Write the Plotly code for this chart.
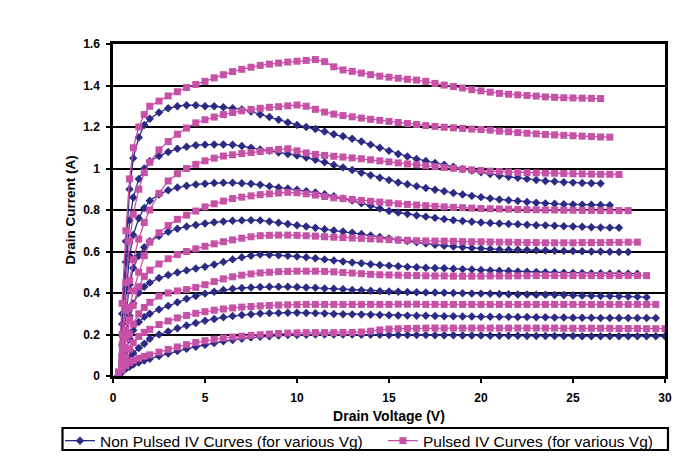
import plotly.graph_objects as go

# Drain voltage grid (V)
VD = [0.3, 0.5, 0.7, 0.9, 1.1, 1.4, 1.7, 2.0, 2.5, 3.0, 3.5, 4.0, 4.5, 5.0, 5.5, 6.0,
      6.5, 7.0, 7.5, 8.0, 8.5, 9.0, 9.5, 10.0, 10.5, 11.0, 11.5, 12.0, 12.5, 13.0, 13.5, 14.0,
      14.5, 15.0, 15.5, 16.0, 16.5, 17.0, 17.5, 18.0, 18.5, 19.0, 19.5, 20.0, 20.5, 21.0, 21.5, 22.0,
      22.5, 23.0, 23.5, 24.0, 24.5, 25.0, 25.5, 26.0, 26.5, 27.0, 27.5, 28.0, 28.5, 29.0, 29.5, 30.0]

# Non pulsed IV curves (A), one list per Vg
NP1 = [0.0, 0.3, 0.65, 0.9, 1.05, 1.15, 1.21, 1.24,
       1.27, 1.29, 1.30, 1.305, 1.305, 1.30, 1.30, 1.295,
       1.29, 1.285, 1.275, 1.26, 1.248, 1.235, 1.222, 1.21,
       1.20, 1.19, 1.178, 1.165, 1.155, 1.143, 1.13, 1.115,
       1.10, 1.085, 1.07, 1.058, 1.046, 1.036, 1.027, 1.018,
       1.008, 0.998, 0.99, 0.982, 0.973, 0.965, 0.96, 0.955,
       0.95, 0.945, 0.94, 0.937, 0.934, 0.932, 0.93, 0.929,
       0.928]
NP2 = [0.0, 0.25, 0.55, 0.75, 0.86, 0.95, 1.0, 1.035,
       1.06, 1.08, 1.095, 1.105, 1.112, 1.115, 1.116, 1.116,
       1.114, 1.108, 1.1, 1.092, 1.085, 1.077, 1.07, 1.063,
       1.053, 1.042, 1.03, 1.017, 1.005, 0.993, 0.98, 0.967,
       0.955, 0.944, 0.933, 0.924, 0.915, 0.906, 0.898, 0.89,
       0.882, 0.875, 0.868, 0.862, 0.856, 0.851, 0.847, 0.843,
       0.839, 0.835, 0.832, 0.83, 0.828, 0.827, 0.826, 0.825,
       0.824, 0.823]
NP3 = [0.0, 0.2, 0.42, 0.58, 0.68, 0.76, 0.81, 0.845,
       0.875, 0.895, 0.908, 0.917, 0.923, 0.927, 0.93, 0.931,
       0.931, 0.929, 0.926, 0.922, 0.915, 0.909, 0.904, 0.898,
       0.891, 0.884, 0.876, 0.866, 0.856, 0.846, 0.833, 0.82,
       0.807, 0.795, 0.788, 0.781, 0.774, 0.768, 0.762, 0.756,
       0.751, 0.747, 0.743, 0.74, 0.737, 0.735, 0.733, 0.731,
       0.729, 0.727, 0.726, 0.724, 0.722, 0.72, 0.719, 0.717,
       0.716, 0.715, 0.714]
NP4 = [0.0, 0.15, 0.32, 0.44, 0.52, 0.58, 0.62, 0.65,
       0.675, 0.695, 0.71, 0.72, 0.728, 0.735, 0.741, 0.745,
       0.748, 0.75, 0.751, 0.75, 0.745, 0.739, 0.733, 0.727,
       0.72, 0.714, 0.707, 0.701, 0.696, 0.691, 0.684, 0.677,
       0.67, 0.663, 0.656, 0.65, 0.644, 0.638, 0.633, 0.628,
       0.624, 0.62, 0.617, 0.614, 0.612, 0.61, 0.609, 0.608,
       0.607, 0.606, 0.605, 0.604, 0.603, 0.602, 0.601, 0.6,
       0.6, 0.599, 0.598, 0.598]
NP5 = [0.0, 0.1, 0.2, 0.29, 0.35, 0.4, 0.43, 0.45,
       0.472, 0.487, 0.499, 0.509, 0.518, 0.527, 0.537, 0.55,
       0.562, 0.572, 0.58, 0.585, 0.584, 0.582, 0.579, 0.576,
       0.572, 0.567, 0.562, 0.557, 0.552, 0.547, 0.543, 0.539,
       0.535, 0.532, 0.529, 0.526, 0.524, 0.522, 0.52, 0.519,
       0.517, 0.515, 0.513, 0.511, 0.509, 0.507, 0.506, 0.504,
       0.503, 0.501, 0.5, 0.499, 0.498, 0.497, 0.496, 0.495,
       0.495, 0.494, 0.494, 0.493, 0.493]
NP6 = [0.0, 0.06, 0.12, 0.18, 0.22, 0.26, 0.285, 0.3,
       0.32, 0.338, 0.355, 0.372, 0.386, 0.397, 0.406, 0.414,
       0.42, 0.424, 0.427, 0.429, 0.43, 0.43, 0.43, 0.429,
       0.427, 0.425, 0.422, 0.42, 0.418, 0.415, 0.413, 0.411,
       0.409, 0.407, 0.406, 0.405, 0.404, 0.403, 0.402, 0.401,
       0.4, 0.399, 0.398, 0.397, 0.396, 0.395, 0.394, 0.393,
       0.393, 0.392, 0.392, 0.391, 0.39, 0.389, 0.388, 0.387,
       0.386, 0.385, 0.384, 0.383, 0.382, 0.38]
NP7 = [0.0, 0.03, 0.06, 0.09, 0.11, 0.135, 0.155, 0.18,
       0.2, 0.215, 0.23, 0.243, 0.255, 0.266, 0.275, 0.283,
       0.289, 0.294, 0.298, 0.301, 0.303, 0.304, 0.305, 0.305,
       0.304, 0.303, 0.301, 0.299, 0.298, 0.297, 0.296, 0.295,
       0.294, 0.293, 0.292, 0.291, 0.29, 0.29, 0.289, 0.288,
       0.288, 0.287, 0.287, 0.286, 0.286, 0.285, 0.285, 0.284,
       0.284, 0.283, 0.283, 0.282, 0.282, 0.281, 0.281, 0.281,
       0.28, 0.28, 0.28, 0.28, 0.28, 0.28, 0.28]
NP8 = [0.0, 0.02, 0.035, 0.045, 0.055, 0.065, 0.075, 0.083,
       0.096, 0.108, 0.12, 0.131, 0.141, 0.15, 0.159, 0.167,
       0.174, 0.18, 0.185, 0.189, 0.192, 0.195, 0.197, 0.198,
       0.199, 0.2, 0.2, 0.2, 0.2, 0.2, 0.199, 0.199,
       0.199, 0.198, 0.198, 0.197, 0.197, 0.197, 0.196, 0.196,
       0.196, 0.195, 0.195, 0.195, 0.194, 0.194, 0.194, 0.194,
       0.193, 0.193, 0.193, 0.193, 0.193, 0.193, 0.192, 0.192,
       0.192, 0.192, 0.192, 0.192, 0.192, 0.192, 0.192, 0.192]

# Pulsed IV curves (A), one list per Vg
P1 = [0.02, 0.35, 0.7, 0.95, 1.1, 1.2, 1.26, 1.3,
      1.325, 1.35, 1.37, 1.39, 1.405, 1.42, 1.437, 1.452,
      1.467, 1.478, 1.488, 1.497, 1.503, 1.508, 1.513, 1.517,
      1.521, 1.525, 1.515, 1.49, 1.475, 1.468, 1.46, 1.452,
      1.445, 1.44, 1.435, 1.43, 1.426, 1.42, 1.41, 1.402,
      1.395, 1.388, 1.38, 1.374, 1.368, 1.362, 1.358, 1.355,
      1.352, 1.349, 1.345, 1.343, 1.341, 1.34, 1.339, 1.338,
      1.337]
P2 = [0.01, 0.2, 0.45, 0.65, 0.78, 0.9, 0.98, 1.03,
      1.09, 1.13, 1.165, 1.195, 1.22, 1.235, 1.248, 1.26,
      1.27, 1.278, 1.285, 1.29, 1.295, 1.298, 1.302, 1.306,
      1.30, 1.285, 1.272, 1.262, 1.255, 1.249, 1.243, 1.237,
      1.232, 1.227, 1.222, 1.217, 1.212, 1.207, 1.203, 1.199,
      1.196, 1.193, 1.19, 1.188, 1.185, 1.18, 1.177, 1.173,
      1.17, 1.167, 1.164, 1.162, 1.16, 1.158, 1.156, 1.154,
      1.152, 1.151]
P3 = [0.01, 0.15, 0.32, 0.46, 0.56, 0.66, 0.74, 0.8,
      0.88, 0.94, 0.975, 1.0, 1.02, 1.037, 1.05, 1.06,
      1.066, 1.072, 1.077, 1.082, 1.087, 1.092, 1.095, 1.085,
      1.075, 1.068, 1.063, 1.059, 1.055, 1.051, 1.047, 1.042,
      1.037, 1.032, 1.027, 1.022, 1.018, 1.013, 1.009, 1.005,
      1.001, 0.997, 0.993, 0.99, 0.987, 0.985, 0.983, 0.981,
      0.98, 0.979, 0.978, 0.977, 0.976, 0.975, 0.974, 0.973,
      0.972, 0.972, 0.971]
P4 = [0.01, 0.1, 0.22, 0.33, 0.41, 0.5, 0.58, 0.645,
      0.69, 0.725, 0.755, 0.775, 0.795, 0.815, 0.83, 0.843,
      0.855, 0.862, 0.868, 0.874, 0.878, 0.882, 0.885, 0.883,
      0.878, 0.872, 0.865, 0.859, 0.855, 0.851, 0.846, 0.842,
      0.838, 0.834, 0.83, 0.827, 0.824, 0.821, 0.818, 0.815,
      0.813, 0.811, 0.809, 0.807, 0.806, 0.805, 0.804, 0.803,
      0.802, 0.801, 0.8, 0.8, 0.799, 0.799, 0.798, 0.798,
      0.797, 0.797, 0.797, 0.797]
P5 = [0.01, 0.08, 0.18, 0.27, 0.34, 0.43, 0.48, 0.51,
      0.54, 0.565, 0.585, 0.6, 0.613, 0.625, 0.637, 0.647,
      0.656, 0.664, 0.671, 0.676, 0.678, 0.679, 0.679, 0.678,
      0.676, 0.674, 0.671, 0.669, 0.667, 0.665, 0.663, 0.661,
      0.659, 0.657, 0.655, 0.654, 0.652, 0.651, 0.65, 0.65,
      0.649, 0.648, 0.647, 0.647, 0.646, 0.645, 0.645, 0.644,
      0.643, 0.643, 0.642, 0.642, 0.642, 0.642, 0.643, 0.643,
      0.643, 0.644, 0.644, 0.645, 0.645]
P6 = [0.01, 0.06, 0.13, 0.2, 0.25, 0.3, 0.33, 0.355,
      0.385, 0.4, 0.41, 0.417, 0.427, 0.44, 0.455, 0.468,
      0.478, 0.486, 0.492, 0.497, 0.5, 0.503, 0.504, 0.505,
      0.505, 0.505, 0.504, 0.502, 0.499, 0.496, 0.493, 0.49,
      0.488, 0.487, 0.486, 0.485, 0.484, 0.483, 0.482, 0.482,
      0.481, 0.481, 0.481, 0.481, 0.482, 0.482, 0.482, 0.483,
      0.483, 0.484, 0.484, 0.484, 0.484, 0.484, 0.484, 0.484,
      0.484, 0.484, 0.484, 0.484, 0.484, 0.484]
P7 = [0.01, 0.05, 0.09, 0.13, 0.16, 0.19, 0.21, 0.225,
      0.248, 0.265, 0.28, 0.292, 0.302, 0.31, 0.317, 0.323,
      0.328, 0.332, 0.335, 0.338, 0.34, 0.342, 0.343, 0.344,
      0.345, 0.345, 0.345, 0.345, 0.345, 0.345, 0.345, 0.345,
      0.345, 0.345, 0.346, 0.346, 0.346, 0.345, 0.345, 0.345,
      0.345, 0.345, 0.345, 0.345, 0.345, 0.345, 0.345, 0.345,
      0.345, 0.345, 0.345, 0.345, 0.345, 0.345, 0.345, 0.345,
      0.345, 0.345, 0.345, 0.345, 0.345, 0.345, 0.345]
P8 = [0.01, 0.03, 0.05, 0.065, 0.075, 0.085, 0.095, 0.102,
      0.115, 0.128, 0.14, 0.151, 0.161, 0.17, 0.177, 0.183,
      0.188, 0.192, 0.196, 0.199, 0.202, 0.205, 0.207, 0.208,
      0.209, 0.209, 0.209, 0.209, 0.21, 0.21, 0.212, 0.216,
      0.222, 0.226, 0.228, 0.229, 0.23, 0.231, 0.231, 0.231,
      0.231, 0.231, 0.231, 0.231, 0.231, 0.231, 0.231, 0.231,
      0.231, 0.231, 0.231, 0.231, 0.23, 0.23, 0.23, 0.23,
      0.23, 0.23, 0.229, 0.229, 0.229, 0.228, 0.228, 0.228]

NON_PULSED = [NP1, NP2, NP3, NP4, NP5, NP6, NP7, NP8]
PULSED = [P1, P2, P3, P4, P5, P6, P7, P8]
NAME_NP = "Non Pulsed IV Curves (for various Vg)"
NAME_P = "Pulsed IV Curves (for various Vg)"

BLUE = "#2B2B86"
PINK = "#C651A6"
FONT = "Liberation Sans, Arial, sans-serif"

fig = go.Figure()

for i, cur in enumerate(NON_PULSED):
    fig.add_trace(go.Scatter(
        x=VD[:len(cur)], y=cur, mode="lines+markers", name=NAME_NP,
        legend="legend", legendgroup="np", showlegend=(i == 0),
        line=dict(color=BLUE, width=1.3),
        marker=dict(symbol="diamond", size=6.5, color=BLUE),
    ))

for i, cur in enumerate(PULSED):
    fig.add_trace(go.Scatter(
        x=VD[:len(cur)], y=cur, mode="lines+markers", name=NAME_P,
        legend="legend2", legendgroup="p", showlegend=(i == 0),
        line=dict(color=PINK, width=1.3),
        marker=dict(symbol="square", size=7, color=PINK),
    ))

legend_common = dict(
    orientation="h", yanchor="middle", y=-0.196, xanchor="left",
    borderwidth=0, bgcolor="rgba(0,0,0,0)",
    font=dict(size=15.5, family=FONT, color="black"),
)

fig.update_layout(
    width=683, height=445,
    margin=dict(l=105, r=26, t=36, b=77, autoexpand=False),
    paper_bgcolor="white", plot_bgcolor="white",
    font=dict(family=FONT, color="black"),
    showlegend=True,
    legend=dict(x=-0.096, **legend_common),
    legend2=dict(x=0.489, **legend_common),
    shapes=[dict(type="rect", xref="paper", yref="paper",
                 x0=-0.0915, x1=1.0054, y0=-0.2229, y1=-0.1566,
                 line=dict(color="black", width=2.2), fillcolor="rgba(0,0,0,0)",
                 layer="below")],
    xaxis=dict(
        range=[0, 30], dtick=5, tick0=0,
        showline=True, linecolor="black", linewidth=2.5, mirror=True,
        ticks="outside", ticklen=4, tickwidth=2, tickcolor="black",
        ticklabelstandoff=5,
        showgrid=False, zeroline=False,
        tickfont=dict(size=12, family=FONT, color="black", weight="bold"),
        title=dict(text="Drain Voltage (V)", standoff=8,
                   font=dict(size=14, family=FONT, color="black", weight="bold")),
    ),
    yaxis=dict(
        range=[0, 1.6], dtick=0.2, tick0=0,
        showline=True, linecolor="black", linewidth=2.5, mirror=True,
        ticks="outside", ticklen=4, tickwidth=2, tickcolor="black",
        ticklabelstandoff=4,
        showgrid=True, gridcolor="black", gridwidth=2, zeroline=False,
        tickfont=dict(size=12, family=FONT, color="black", weight="bold"),
        title=dict(text="Drain Current (A)", standoff=5,
                   font=dict(size=13.5, family=FONT, color="black", weight="bold")),
    ),
)

fig.write_html("out.html")
